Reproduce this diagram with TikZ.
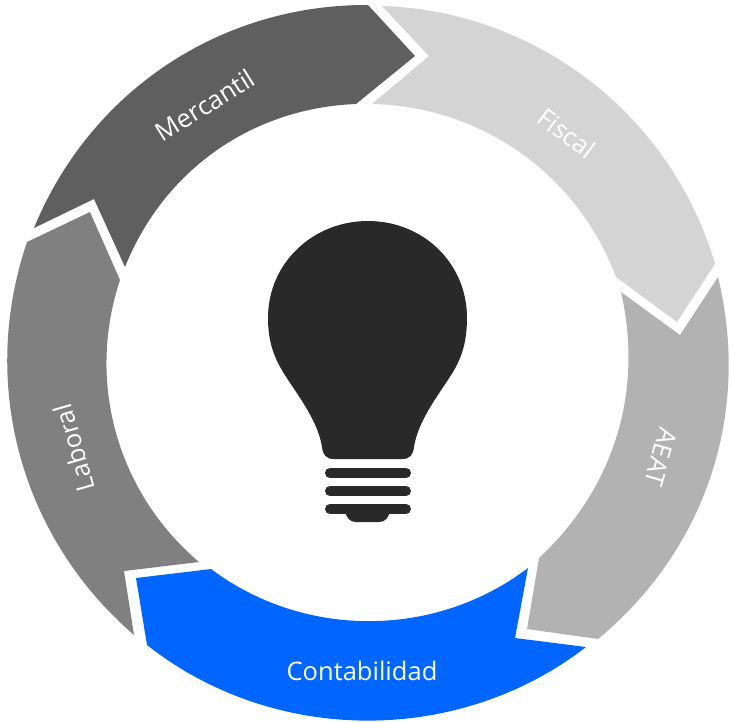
\documentclass[tikz,border=0pt]{standalone}
\usepackage{fontspec}
\setmainfont{Open Sans}
\definecolor{mercantilgray}{HTML}{5F5F5F}
\definecolor{fiscalgray}{HTML}{D4D4D4}
\definecolor{aeatgray}{HTML}{B2B2B2}
\definecolor{laboralgray}{HTML}{808080}
\definecolor{contablue}{HTML}{0066FF}
\definecolor{bulbdark}{HTML}{292929}
\tikzset{seglabel/.style={white,font=\fontsize{25.5}{30}\selectfont}}
\begin{document}
\begin{tikzpicture}[x=1pt,y=-1pt,looseness=0.94]
    \useasboundingbox (0,0) rectangle (731,721);
    \fill[mercantilgray] (368,5) -- (415,56) -- (356,104) to[bend right=33] (125,267) -- (94,199) -- (34,228) to[bend left=34] (368,5);
    \fill[fiscalgray] (382,6) to[bend left=36] (715,264) -- (677,322) -- (616,277) to[bend right=34] (372,104) -- (429,56) -- cycle;
    \fill[aeatgray] (718,277) -- (680,335) -- (621,292) to[bend left=30] (539,558) -- (527,629) -- (598,639) to[bend right=32] (718,277);
    \fill[contablue] (528,568) -- (515,638) -- (586,647) to[bend left=38] (147,645) -- (136,578) -- (211,569) to[bend right=37] (528,568);
    \fill[laboralgray] (199,562) -- (124,571) -- (134,635) to[bend left=34] (27,242) -- (90,212) -- (120,280) to[bend right=34] (199,562);
    \node[seglabel,rotate=32] (mercantil) at (205,105) {Mercantil};
    \node[seglabel,rotate=-37] (fiscal) at (567,133) {Fiscal};
    \node[seglabel,rotate=-106] (aeat) at (661,457) {AEAT};
    \node[seglabel,rotate=106] (laboral) at (74,448) {Laboral};
    \node[seglabel] (contabilidad) at (362,671) {Contabilidad};
    \fill[bulbdark] (268,318) .. controls (268,263) and (313,221) .. (368,221) .. controls (423,221) and (467,263) .. (467,318) .. controls (467,345) and (460,360) .. (453,372) .. controls (440,393) and (418,420) .. (414,447) .. controls (413,455) and (410,459) .. (402,459) -- (334,459) .. controls (326,459) and (323,455) .. (322,447) .. controls (318,420) and (296,393) .. (283,372) .. controls (276,360) and (268,345) .. (268,318);
    \foreach \y in {473,491,509}
        \draw[bulbdark,line width=10pt,line cap=round] (330,\y) -- (406,\y);
    \fill[bulbdark] (345,510) .. controls (346,518) and (350,522) .. (356,522) -- (379,522) .. controls (385,522) and (389,518) .. (390,510) -- cycle;
\end{tikzpicture}
\end{document}
